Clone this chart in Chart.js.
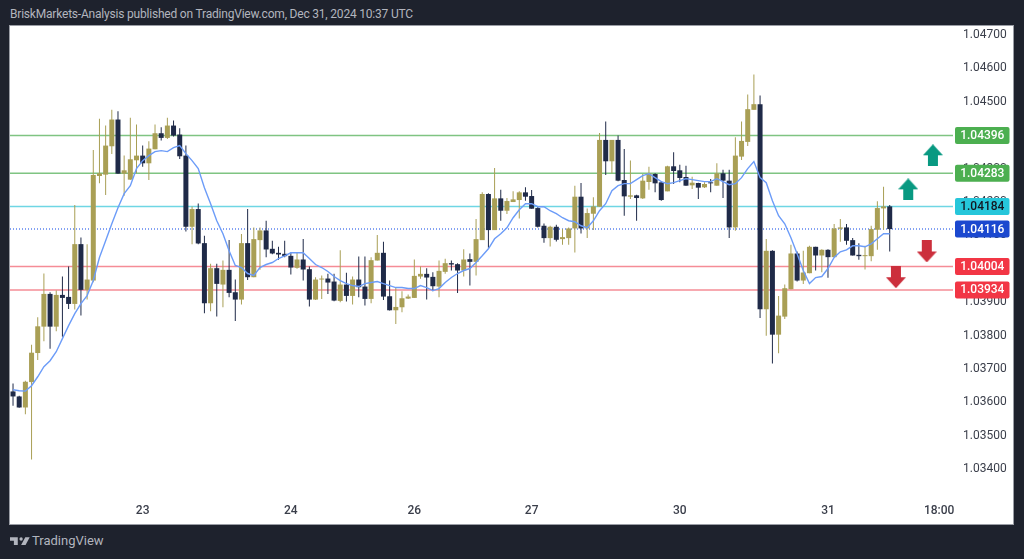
<!DOCTYPE html>
<html>
<head>
<meta charset="utf-8">
<title>EURUSD</title>
<script src="https://cdn.jsdelivr.net/npm/chart.js@4"></script>
<style>
  html, body { margin: 0; padding: 0; width: 1024px; height: 559px; overflow: hidden; background: #1e222d; }
  #title { position: absolute; left: 10px; top: 7px; font: 12px Roboto, sans-serif; letter-spacing: -0.2px; color: #b2b5be; white-space: nowrap; }
  #wrap { position: absolute; left: 10px; top: 26px; width: 1003px; height: 498px; background: #fff; box-shadow: 0 0 0 1px #9a9da5; }
  #logo { position: absolute; left: 10px; top: 535px; }
  #brand { position: absolute; left: 32px; top: 533px; font: 13px Roboto, sans-serif; color: #b2b5be; }
</style>
</head>
<body>
<div id="title">BriskMarkets-Analysis published on TradingView.com, Dec 31, 2024 10:37 UTC</div>
<div id="wrap"><canvas id="chart" width="1003" height="498"></canvas></div>
<svg id="logo" width="20" height="13" viewBox="0 6 36 15"><path fill="#b2b5be" d="M14 6H0v6h7v8h7V6Z M28 20h-8l7.5-14H35.5Z"/><circle fill="#b2b5be" cx="20" cy="9" r="3"/></svg>
<div id="brand">TradingView</div>
<script>
const opens = [1.03630,1.03615,1.03582,1.03658,1.03745,1.03824,1.03922,1.03824,1.03919,1.03913,
  1.03892,1.04071,1.03934,1.03962,1.04275,1.04279,1.04364,1.04444,1.04282,1.04264,
  1.04322,1.04336,1.04313,1.04355,1.04403,1.04389,1.04426,1.04399,1.04336,1.04123,
  1.04176,1.04074,1.03894,1.03999,1.03950,1.03994,1.03927,1.03905,1.04074,1.03972,
  1.04083,1.04112,1.04057,1.04045,1.04042,1.04036,1.04000,1.04025,1.03996,1.03905,
  1.03965,1.03968,1.03959,1.03901,1.03950,1.03916,1.03965,1.03944,1.03907,1.04022,
  1.04045,1.03915,1.03873,1.03882,1.03908,1.03910,1.03974,1.03982,1.03973,1.03944,
  1.03988,1.04014,1.04011,1.03992,1.04026,1.04018,1.04083,1.04221,1.04113,1.04208,
  1.04171,1.04197,1.04203,1.04226,1.04215,1.04179,1.04126,1.04089,1.04123,1.04086,
  1.04089,1.04118,1.04213,1.04118,1.04162,1.04183,1.04383,1.04319,1.04383,1.04263,
  1.04213,1.04217,1.04208,1.04257,1.04281,1.04256,1.04229,1.04304,1.04292,1.04272,
  1.04247,1.04254,1.04241,1.04256,1.04246,1.04283,1.04261,1.04121,1.04333,1.04377,
  1.04473,1.04490,1.03876,1.04051,1.03800,1.03854,1.03936,1.04043,1.03962,1.03984,
  1.04063,1.04037,1.04054,1.04032,1.04117,1.04121,1.04083,1.04039,1.04035,1.04035,
  1.04114,1.04178,1.04184];
const highs = [1.03654,1.03617,1.03662,1.03770,1.03852,1.03983,1.03927,1.03932,1.03974,1.04004,
  1.04188,1.04091,1.04071,1.04353,1.04446,1.04426,1.04473,1.04469,1.04336,1.04449,
  1.04429,1.04366,1.04379,1.04429,1.04421,1.04449,1.04441,1.04418,1.04366,1.04184,
  1.04193,1.04096,1.04012,1.04012,1.04022,1.04083,1.03965,1.04101,1.04176,1.04121,
  1.04121,1.04141,1.04081,1.04063,1.04081,1.04046,1.04045,1.04086,1.04004,1.03972,
  1.03977,1.03982,1.03982,1.04053,1.03985,1.03974,1.04034,1.04034,1.04032,1.04098,
  1.04078,1.03962,1.03940,1.03930,1.03920,1.04025,1.04004,1.03999,1.03987,1.04022,
  1.04027,1.04022,1.04014,1.04056,1.04043,1.04146,1.04226,1.04223,1.04299,1.04234,
  1.04209,1.04229,1.04229,1.04241,1.04233,1.04183,1.04133,1.04126,1.04129,1.04116,
  1.04121,1.04246,1.04254,1.04178,1.04211,1.04404,1.04438,1.04383,1.04396,1.04356,
  1.04321,1.04219,1.04281,1.04303,1.04283,1.04259,1.04306,1.04346,1.04309,1.04306,
  1.04273,1.04255,1.04256,1.04266,1.04313,1.04294,1.04294,1.04391,1.04438,1.04519,
  1.04579,1.04516,1.04086,1.04053,1.03916,1.03950,1.04069,1.04049,1.04051,1.04066,
  1.04063,1.04056,1.04056,1.04131,1.04146,1.04131,1.04089,1.04074,1.04066,1.04126,
  1.04199,1.04243,1.04188];
const lows = [1.03587,1.03581,1.03562,1.03426,1.03724,1.03780,1.03758,1.03810,1.03794,1.03877,
  1.03875,1.03857,1.03905,1.03957,1.04253,1.04218,1.04341,1.04282,1.04216,1.04264,
  1.04283,1.04303,1.04263,1.04355,1.04381,1.04386,1.04393,1.04326,1.04109,1.04071,
  1.04071,1.03864,1.03870,1.03854,1.03882,1.03912,1.03841,1.03890,1.03964,1.03972,
  1.03994,1.04032,1.04041,1.04024,1.04032,1.03980,1.03997,1.03962,1.03884,1.03904,
  1.03907,1.03922,1.03900,1.03897,1.03899,1.03890,1.03912,1.03887,1.03894,1.04022,
  1.03904,1.03872,1.03832,1.03867,1.03907,1.03910,1.03967,1.03905,1.03930,1.03912,
  1.03982,1.03992,1.03925,1.03974,1.03947,1.03977,1.04083,1.04060,1.04113,1.04141,
  1.04161,1.04197,1.04148,1.04201,1.04177,1.04121,1.04075,1.04064,1.04079,1.04069,
  1.04069,1.04046,1.04103,1.04089,1.04113,1.04183,1.04278,1.04283,1.04259,1.04156,
  1.04206,1.04141,1.04206,1.04234,1.04226,1.04201,1.04229,1.04251,1.04256,1.04246,
  1.04236,1.04206,1.04239,1.04226,1.04246,1.04209,1.04089,1.04111,1.04323,1.04365,
  1.04473,1.03850,1.03797,1.03714,1.03744,1.03847,1.03936,1.03959,1.03952,1.03984,
  1.03992,1.03987,1.03970,1.04032,1.04078,1.04069,1.04037,1.04024,1.03995,1.04020,
  1.04054,1.04114,1.04049];
const closes = [1.03615,1.03582,1.03659,1.03746,1.03825,1.03922,1.03824,1.03919,1.03910,1.03892,
  1.04071,1.03934,1.03965,1.04278,1.04283,1.04366,1.04444,1.04282,1.04292,1.04325,
  1.04336,1.04313,1.04357,1.04403,1.04389,1.04426,1.04396,1.04334,1.04123,1.04176,
  1.04073,1.03894,1.03999,1.03952,1.03994,1.03925,1.03905,1.04074,1.03972,1.04086,
  1.04112,1.04055,1.04043,1.04040,1.04035,1.04001,1.04025,1.03995,1.03905,1.03965,
  1.03968,1.03956,1.03902,1.03950,1.03916,1.03965,1.03942,1.03907,1.04023,1.04045,
  1.03914,1.03873,1.03883,1.03909,1.03914,1.03976,1.03982,1.03971,1.03945,1.03991,
  1.04014,1.04010,1.03992,1.04025,1.04018,1.04086,1.04221,1.04113,1.04208,1.04171,
  1.04200,1.04205,1.04226,1.04213,1.04177,1.04123,1.04089,1.04123,1.04084,1.04092,
  1.04118,1.04213,1.04118,1.04164,1.04184,1.04383,1.04319,1.04383,1.04261,1.04214,
  1.04217,1.04209,1.04261,1.04283,1.04253,1.04203,1.04304,1.04290,1.04269,1.04246,
  1.04255,1.04240,1.04251,1.04253,1.04283,1.04261,1.04121,1.04336,1.04380,1.04475,
  1.04490,1.03876,1.04051,1.03800,1.03857,1.03939,1.04043,1.03962,1.03986,1.04063,
  1.04037,1.04054,1.04032,1.04118,1.04121,1.04081,1.04037,1.04035,1.04038,1.04116,
  1.04179,1.04184,1.04116];
const ma = [1.03635,1.03632,1.03631,1.03647,1.03674,1.03704,1.03722,1.03749,1.03788,1.03827,
  1.03863,1.03893,1.03917,1.03962,1.04031,1.04081,1.04132,1.04180,1.04222,1.04246,
  1.04297,1.04321,1.04336,1.04348,1.04351,1.04348,1.04360,1.04366,1.04342,1.04321,
  1.04297,1.04240,1.04192,1.04141,1.04102,1.04051,1.04007,1.04001,1.03983,1.03977,
  1.04001,1.04010,1.04016,1.04028,1.04036,1.04045,1.04045,1.04045,1.04028,1.04010,
  1.04001,1.03989,1.03974,1.03962,1.03953,1.03947,1.03944,1.03953,1.03956,1.03959,
  1.03953,1.03947,1.03941,1.03941,1.03938,1.03938,1.03947,1.03941,1.03932,1.03938,
  1.03956,1.03971,1.03983,1.03992,1.03998,1.04016,1.04036,1.04057,1.04087,1.04102,
  1.04120,1.04150,1.04174,1.04192,1.04192,1.04183,1.04183,1.04171,1.04162,1.04150,
  1.04141,1.04138,1.04126,1.04120,1.04141,1.04171,1.04192,1.04231,1.04246,1.04252,
  1.04252,1.04264,1.04276,1.04282,1.04270,1.04258,1.04252,1.04255,1.04261,1.04267,
  1.04264,1.04261,1.04258,1.04258,1.04267,1.04258,1.04249,1.04252,1.04270,1.04297,
  1.04318,1.04270,1.04255,1.04201,1.04156,1.04132,1.04090,1.04042,1.03992,1.03953,
  1.03971,1.03974,1.03998,1.04031,1.04048,1.04054,1.04066,1.04066,1.04063,1.04072,
  1.04087,1.04102,1.04102];

const priceTicks = [1.047,1.046,1.045,1.044,1.043,1.042,1.041,1.04,1.039,1.038,1.037,1.036,1.035,1.034];
const timeTickIdx = [21,45,65,84,108,132,150];
const timeTickLabels = ['23','24','26','27','30','31','18:00'];

const levels = [1.04396,1.04283,1.04184,1.04004,1.03934];
const levelLine = ['#7fc482','#7fc482','#6fd6e4','#f58c96','#f58c96'];
const levelTag = ['#4caf50','#4caf50','#26c6da','#f23645','#f23645'];
const levelText = ['#fff','#fff','#131722','#fff','#fff'];
const lastPrice = 1.04116;

const arrowUpX = [149,145];
const arrowUpY = [1.04337,1.04235];
const arrowDownX = [148,143];
const arrowDownY = [1.04049,1.03972];

const UP = '#a99f55', DOWN = '#1f2a48';
const xMin = -0.49, xMax = 152.25;

// little block arrows used as point images
function makeArrow(color, up) {
  const c = document.createElement('canvas');
  c.width = 20; c.height = 22;
  const g = c.getContext('2d');
  g.fillStyle = color;
  g.beginPath();
  if (up) {
    g.moveTo(10,0); g.lineTo(20,11); g.lineTo(15,11); g.lineTo(15,22); g.lineTo(5,22); g.lineTo(5,11); g.lineTo(0,11);
  } else {
    g.moveTo(10,22); g.lineTo(20,11); g.lineTo(15,11); g.lineTo(15,0); g.lineTo(5,0); g.lineTo(5,11); g.lineTo(0,11);
  }
  g.closePath();
  g.fill();
  return c;
}

function flat(value, color, dash) {
  return {
    type: 'line', order: 5, borderColor: color, borderWidth: 1.5, borderDash: dash || [],
    pointRadius: 0, data: [{x: xMin, y: value}, {x: xMax, y: value}]
  };
}

const candleColors = opens.map((o, i) => closes[i] >= o ? UP : DOWN);

const priceTags = {
  id: 'priceTags',
  afterDatasetsDraw(chart) {
    const y = chart.scales.y, ctx = chart.ctx;
    const all = levels.map((v, i) => [v, levelTag[i], levelText[i]]);
    all.push([lastPrice, '#1b48cf', '#fff']);
    ctx.save();
    ctx.font = '500 12px Roboto, sans-serif';
    ctx.textAlign = 'center';
    ctx.textBaseline = 'middle';
    all.forEach(t => {
      const py = y.getPixelForValue(t[0]);
      ctx.fillStyle = t[1];
      ctx.beginPath();
      ctx.roundRect(945, py - 8.5, 54.5, 17, 2);
      ctx.fill();
      ctx.fillStyle = t[2];
      ctx.fillText(t[0].toFixed(5), 972.3, py + 0.5);
    });
    ctx.restore();
  }
};

new Chart(document.getElementById('chart'), {
  data: {
    datasets: [
      ...levels.map((v, i) => flat(v, levelLine[i])),
      flat(lastPrice, '#5b82ee', [1, 2]),
      {
        type: 'bar', order: 4, grouped: false, barThickness: 1, inflateAmount: 0,
        backgroundColor: candleColors,
        data: lows.map((l, i) => ({x: i, y: [l, highs[i]]}))
      },
      {
        type: 'bar', order: 3, grouped: false, barThickness: 5, inflateAmount: 0,
        backgroundColor: candleColors,
        data: opens.map((o, i) => ({x: i, y: [o, closes[i]]}))
      },
      {
        type: 'line', order: 2, borderColor: '#6c9cf8', borderWidth: 1.4, pointRadius: 0,
        data: ma.map((v, i) => ({x: i, y: v}))
      },
      {
        type: 'line', order: 1, showLine: false, pointStyle: makeArrow('#089981', true),
        data: arrowUpX.map((x, i) => ({x: x, y: arrowUpY[i]}))
      },
      {
        type: 'line', order: 1, showLine: false, pointStyle: makeArrow('#cc2f3c', false),
        data: arrowDownX.map((x, i) => ({x: x, y: arrowDownY[i]}))
      }
    ]
  },
  options: {
    responsive: false,
    animation: false,
    layout: { padding: 0, autoPadding: false },
    plugins: { legend: { display: false }, tooltip: { enabled: false } },
    scales: {
      x: {
        type: 'linear', min: xMin, max: xMax, offset: false,
        grid: { display: false }, border: { display: false },
        afterBuildTicks(s) { s.ticks = timeTickIdx.map(v => ({value: v})); },
        afterFit(s) { s.height = 30; s.paddingLeft = 0; s.paddingRight = 0; },
        ticks: {
          autoSkip: false, maxRotation: 0, padding: 2, color: '#3a3e4a',
          font: { family: 'Roboto', size: 12, weight: '500' },
          callback: v => timeTickLabels[timeTickIdx.indexOf(v)]
        }
      },
      y: {
        position: 'right', min: 1.03323, max: 1.04724,
        grid: { display: false }, border: { display: false },
        afterBuildTicks(s) { s.ticks = priceTicks.map(v => ({value: v})); },
        afterFit(s) { s.width = 60; s.paddingTop = 0; s.paddingBottom = 0; },
        ticks: {
          autoSkip: false, padding: 2, color: '#3a3e4a', labelOffset: 1,
          font: { family: 'Roboto', size: 12 },
          callback: v => v.toFixed(5)
        }
      }
    }
  },
  plugins: [priceTags]
});
</script>
</body>
</html>
